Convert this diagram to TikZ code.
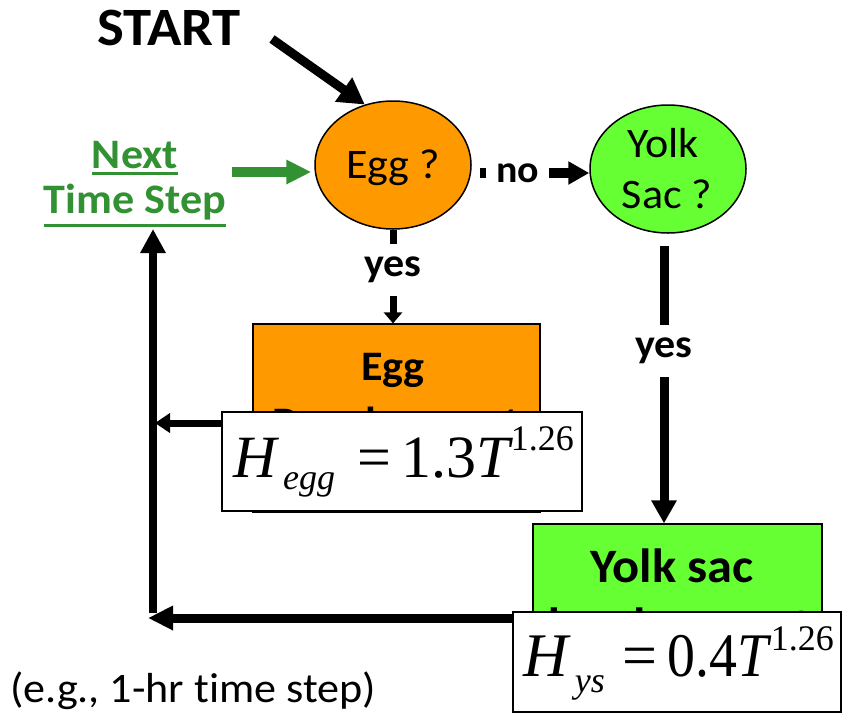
\documentclass[tikz,border=0pt]{standalone}
\usepackage{fontspec}
\usepackage{graphicx}
\setmainfont{Carlito}[FakeStretch=1.05,Ligatures=NoCommon]
\newfontfamily\tnr{Liberation Serif}
\usetikzlibrary{arrows.meta,shapes.geometric,calc}
\definecolor{eggorange}{HTML}{FF9900}
\definecolor{yolkgreen}{HTML}{66FF33}
\definecolor{nextgreen}{RGB}{50,145,50}
\newcommand{\fsz}[1]{\fontsize{#1}{#1}\selectfont}
\newcommand{\ulx}[2]{\leavevmode\setbox0=\hbox{#2}\rlap{\rule[#1]{\wd0}{3pt}}\box0}
\begin{document}
\begin{tikzpicture}[x=1pt,y=-1pt,
  decision/.style={ellipse, draw, line width=1.5pt, minimum width=156pt, minimum height=128pt, inner sep=0pt},
  process/.style={rectangle, draw, line width=1.2pt, inner sep=0pt},
  formula/.style={rectangle, draw, fill=white, line width=1.2pt, inner sep=0pt},
  txt/.style={anchor=base, inner sep=0pt},
  lbl/.style={fill=white, font=\bfseries\fsz{40}, inner xsep=3pt, inner ysep=13pt},
]
\useasboundingbox (0,0) rectangle (842,716);

% shapes
\node[decision, fill=eggorange] (egg) at (393,165) {};
\node[txt, font=\fsz{42}] (eggq) at (393,178) {Egg ?};
\node[decision, fill=yolkgreen] (yolk) at (668,169) {};
\node[txt, font=\fsz{42}] (yolkq1) at (663,157) {Yolk};
\node[txt, font=\fsz{42}] (yolkq2) at (667,208) {Sac ?};

\node[process, fill=eggorange, minimum width=287pt, minimum height=188pt] (eggbox) at (396.5,418) {};
\node[txt, font=\bfseries\fsz{42}] (eggdev1) at (393,380) {Egg};
\node[txt, font=\bfseries\fsz{42}] (eggdev2) at (396.5,436) {Development};
\node[formula, minimum width=360pt, minimum height=99pt] (eggform) at (402,461.5) {};
\node[txt, anchor=base west] (eggeq) at (233,477) {\tnr\fsz{60}\textit{H}\hspace{4pt}\raisebox{-12pt}{\fsz{36}\textit{egg}}\hspace{22pt}=\hspace{10pt}1.3\textit{T}\hspace{-2pt}\raisebox{27pt}{\fsz{36}1.26}};

\node[process, fill=yolkgreen, minimum width=289pt, minimum height=188pt] (yolkbox) at (677.5,618) {};
\node[txt, font=\bfseries\fsz{48}] (yolkdev1) at (672,582) {Yolk sac};
\node[txt, font=\bfseries\fsz{48}] (yolkdev2) at (672,641) {development};
\node[formula, minimum width=328pt, minimum height=100pt] (yolkform) at (677,662) {};
\node[txt, anchor=base west] (yolkeq) at (523,676) {\tnr\fsz{62}\textit{H}\hspace{4pt}\raisebox{-16pt}{\fsz{36}\textit{ys}}\hspace{18pt}=\hspace{10pt}\scalebox{0.9}[1]{0.4\textit{T}}\hspace{-1pt}\raisebox{26pt}{\fsz{36}1.26}};

% texts
\node[txt, font=\bfseries\fsz{54}] (start) at (169,45) {START};
\node[txt, font=\bfseries\fsz{42}, text=nextgreen] (next1) at (135,168) {\ulx{-7pt}{Next}};
\node[txt, font=\bfseries\fsz{42}, text=nextgreen] (next2) at (135,213) {\ulx{-13.5pt}{Time Step}};
\node[txt, anchor=base west, font=\fsz{42}] (note) at (10,702) {(e.g., 1-hr time step)};

% coordinates
\coordinate (startTail) at (272,39);
\coordinate (greenTail) at (232,172);
\coordinate (noLevel) at (0,173);
\coordinate (eggRet) at (155,423);
\coordinate (retTip) at (148,618);
\coordinate (vBottom) at (153,613);
\coordinate (upTip) at (153,229);

% connectors
\draw[line width=9pt, -{Triangle[length=26pt,width=28pt]}] (startTail) -- (egg.115);
\draw[line width=10pt, nextgreen, -{Triangle[length=25pt,width=23pt]}, shorten >=3pt] (greenTail) -- (greenTail -| egg.west);
\draw[line width=10pt, -{Triangle[length=21pt,width=22pt]}, shorten <=8pt] (egg.east |- noLevel) -- (yolk.west |- noLevel)
  node[lbl, pos=0.39, inner xsep=10pt, inner ysep=4pt, font=\bfseries\fsz{38}] (no) {no};
\draw[line width=7pt, -{Triangle[length=11pt,width=18pt]}] (egg.south) -- (egg.south |- eggbox.north)
  node[lbl, pos=0.43] (yes1) {yes};
\draw[line width=9pt, -{Triangle[length=23pt,width=24pt]}, shorten <=12pt] ([xshift=-4pt]yolk.south) -- ([xshift=-4pt]yolk.south |- yolkbox.north)
  node[lbl, pos=0.405] (yes2) {yes};
\draw[line width=7pt, -{Triangle[length=15pt,width=19pt]}] (eggform.west |- eggRet) -- (eggRet);
\draw[line width=9pt, -{Triangle[length=25pt,width=23pt]}] (yolkform.west |- retTip) -- (retTip);
\draw[line width=8pt, -{Triangle[length=24pt,width=24pt]}] (vBottom) -- (upTip);
\end{tikzpicture}
\end{document}
